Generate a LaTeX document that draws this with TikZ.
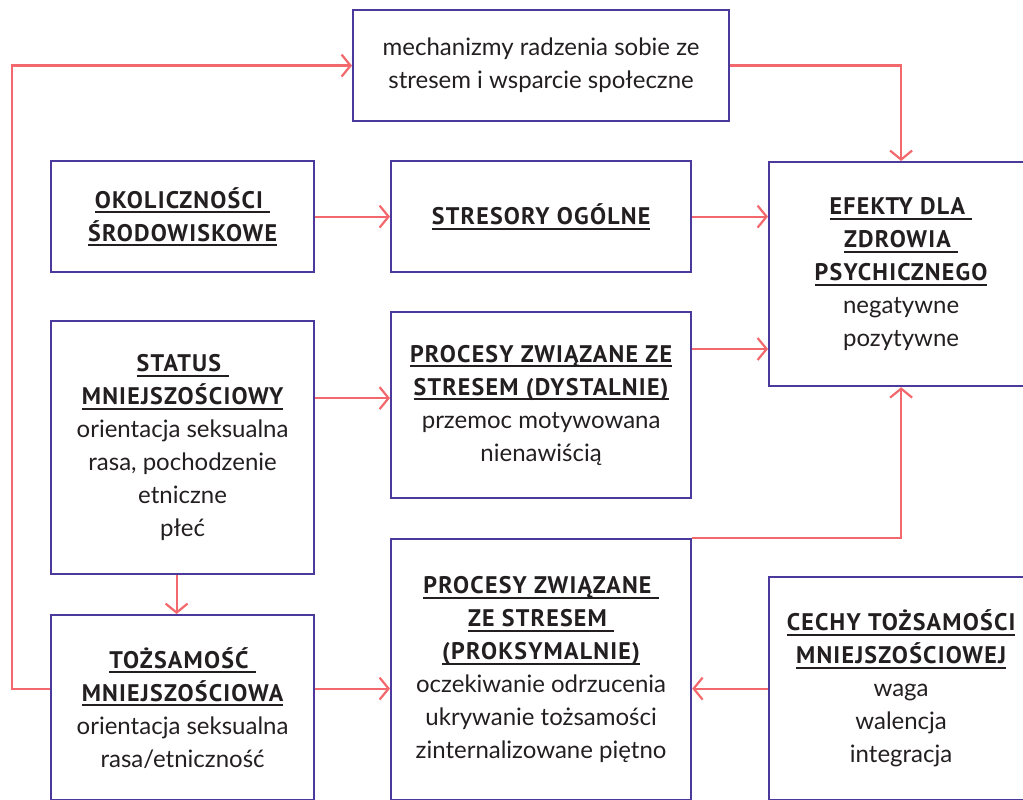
\documentclass[tikz,border=0pt]{standalone}
\usepackage{fontspec}
\setmainfont{Lato}
\newfontfamily\headfont[LetterSpace=5]{PT Sans}
\usetikzlibrary{arrows.meta}

\definecolor{boxline}{HTML}{4B3A9B}
\definecolor{linkred}{HTML}{F2686C}
\definecolor{ink}{HTML}{231F20}

\newcommand{\ulhead}[1]{{\headfont\bfseries\fontsize{24}{33}\selectfont\setbox0\hbox{#1}\rlap{\rule[-5pt]{\wd0}{2pt}}\box0}}

\tikzset{
  box/.style={draw=boxline, line width=2.2pt, anchor=north west, align=center,
    inner sep=0pt, text=ink, font=\fontsize{24}{33}\selectfont},
  link/.style={draw=linkred, line width=2.2pt,
    -{Straight Barb[length=9pt,width=22pt,line width=2.2pt]}}
}

\begin{document}
\begin{tikzpicture}[x=1pt,y=-1pt]
			\useasboundingbox (0,0) rectangle (1023,800);
			\clip (0,0) rectangle (1023,800);

			\node[box, minimum width=376, minimum height=111] (mech) at (352,9)
				{mechanizmy radzenia sobie ze\\stresem i wsparcie społeczne};
			\node[box, minimum width=263, minimum height=111] (okol) at (50,160)
				{\ulhead{OKOLICZNOŚCI\ }\\\ulhead{ŚRODOWISKOWE}};
			\node[box, minimum width=300, minimum height=111] (stres) at (390,160)
				{\ulhead{STRESORY OGÓLNE}};
			\node[box, minimum width=264, minimum height=224] (efekty) at (768,161)
				{\ulhead{EFEKTY DLA\ }\\\ulhead{ZDROWIA\ }\\\ulhead{PSYCHICZNEGO}\\negatywne\\pozytywne};
			\node[box, minimum width=263, minimum height=253] (status) at (50,320)
				{\ulhead{STATUS\ }\\\ulhead{MNIEJSZOŚCIOWY}\\orientacja seksualna\\rasa, pochodzenie\\etniczne\\płeć};
			\node[box, minimum width=300, minimum height=186] (dyst) at (390,311)
				{\ulhead{PROCESY ZWIĄZANE ZE}\\\ulhead{STRESEM (DYSTALNIE)}\\przemoc motywowana\\nienawiścią};
			\node[box, minimum width=300, minimum height=261] (proks) at (390,538)
				{\ulhead{PROCESY ZWIĄZANE\ }\\\ulhead{ZE STRESEM\ }\\\ulhead{(PROKSYMALNIE)}\\oczekiwanie odrzucenia\\ukrywanie tożsamości\\zinternalizowane piętno};
			\node[box, minimum width=263, minimum height=185] (tozs) at (50,614)
				{\ulhead{TOŻSAMOŚĆ\ }\\\ulhead{MNIEJSZOŚCIOWA}\\orientacja seksualna\\rasa/etniczność};
			\node[box, minimum width=264, minimum height=223] (cechy) at (768,576)
				{\ulhead{CECHY TOŻSAMOŚCI}\\\ulhead{MNIEJSZOŚCIOWEJ}\\waga\\walencja\\integracja};

			\coordinate (s2d) at ([yshift=7pt]dyst.west);
			\coordinate (d2e) at ([yshift=-38pt]dyst.north east);

			\draw[link] (tozs.west |- cechy.west) -- ++(-38,0) |- (mech.west);
			\draw[link] (mech.east) -| (efekty.north);
			\draw[link] (okol.east) -- (stres.west);
			\draw[link] (stres.east) -- (stres.east -| efekty.west);
			\draw[link] (d2e) -- (d2e -| efekty.west);
			\draw[link] (s2d -| status.east) -- (s2d);
			\draw[link] ([xshift=-6pt]status.south) -- ([xshift=-6pt]tozs.north);
			\draw[link] (tozs.east |- cechy.west) -- (proks.west |- cechy.west);
			\draw[link] (cechy.west) -- (cechy.west -| proks.east);
			\draw[link] (proks.north east) -| (efekty.south);

		\end{tikzpicture}
\end{document}
